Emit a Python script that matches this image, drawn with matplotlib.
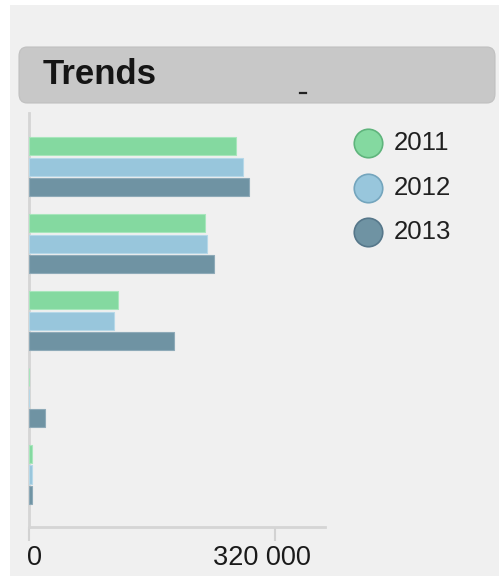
import numpy as np
import matplotlib.pyplot as plt
from matplotlib.patches import FancyBboxPatch, Rectangle
from matplotlib.lines import Line2D
from matplotlib.transforms import ScaledTranslation

# Valores (5 grupos, 3 anos)
years = ['2011', '2012', '2013']
vals_2011 = [269000, 229000, 116000, 0, 4000]
vals_2012 = [278000, 231500, 110500, 0, 4000]
vals_2013 = [286000, 240500, 188500, 20800, 4300]
xticks = [0, 320000]
xtick_labels = ['0', '320 000']
colors = ['#84d9a0', '#98c6dc', '#6f93a3']
edges = ['#a8e6bc', '#b6d8e8', '#8eaab8']
legend_edges = ['#5fb47c', '#74a5bd', '#56778a']

fig = plt.figure(figsize=(4.99, 5.76), dpi=100)
fig.patch.set_facecolor('white')

# Fundo cinza do painel
fig.patches.append(Rectangle((10 / 499, 0), 489 / 499, 571 / 576, transform=fig.transFigure,
                             facecolor='#f0f0f0', edgecolor='none', zorder=-2))

# Barra de título arredondada
fig.patches.append(FancyBboxPatch((19 / 499, 473 / 576), 476 / 499, 56 / 576,
                                  boxstyle='round,pad=0,rounding_size=0.016',
                                  transform=fig.transFigure, facecolor='#c8c8c8',
                                  edgecolor='#c0c0c0', linewidth=0.8, zorder=-1))
fig.text(43 / 499, 1 - 75 / 576, 'Trends', family='Liberation Sans', fontweight='bold',
         fontsize=25, color='#151515', va='center', ha='left')
fig.lines.append(Line2D([300 / 499, 306 / 499], [1 - 92.5 / 576, 1 - 92.5 / 576],
                        transform=fig.transFigure, color='#222222', linewidth=1.6))

ax = fig.add_axes([29 / 499, 49 / 576, 296 / 499, 414 / 576])
ax.set_facecolor('none')
ax.set_zorder(2)

group_pitch = 3.75
base = np.arange(len(vals_2011)) * group_pitch
for j, vals in enumerate([vals_2011, vals_2012, vals_2013]):
    ax.barh(base + j, vals, height=0.88, color=colors[j], edgecolor=edges[j],
            linewidth=0.8, zorder=3)

ax.set_xlim(0, 385000)
ax.set_ylim(base[-1] + 2 + 1.56, -1.63)

ax.set_xticks(xticks)
ax.set_xticklabels(xtick_labels, family='Liberation Sans', fontsize=19.5, color='#1a1a1a')
ax.tick_params(axis='x', length=10, width=1.5, color='#d2d2d2', pad=3)
labs = ax.get_xticklabels()
labs[0].set_horizontalalignment('left')
labs[0].set_transform(labs[0].get_transform() + ScaledTranslation(-0.02, 0, fig.dpi_scale_trans))
labs[1].set_transform(labs[1].get_transform() + ScaledTranslation(-0.13, 0, fig.dpi_scale_trans))
ax.set_yticks([])
for side in ['top', 'right']:
    ax.spines[side].set_visible(False)
for side in ['left', 'bottom']:
    ax.spines[side].set_color('#d5d5d5')
    ax.spines[side].set_linewidth(2)

# Legenda com círculos
leg_y = [143, 188, 232]
for j, yr in enumerate(years):
    fy = 1 - leg_y[j] / 576
    fig.lines.append(Line2D([368 / 499], [fy], transform=fig.transFigure, marker='o',
                            markersize=20.5, markerfacecolor=colors[j],
                            markeredgecolor=legend_edges[j], markeredgewidth=1.2))
    fig.text(394 / 499, fy, yr, family='Liberation Sans', fontsize=18.5, color='#202020',
             va='center', ha='left')

fig.savefig('out.png', dpi=100, facecolor=fig.get_facecolor())
